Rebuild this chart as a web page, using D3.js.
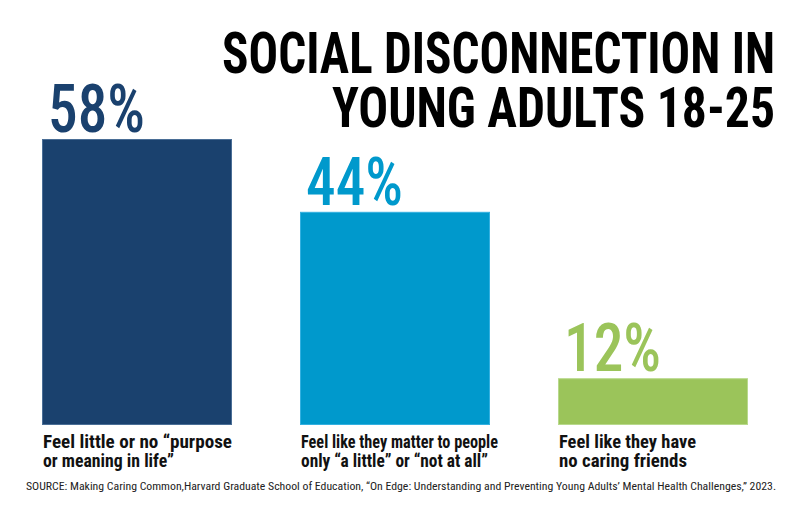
<!DOCTYPE html>
<html>
<head>
<meta charset="utf-8">
<script src="https://cdn.jsdelivr.net/npm/d3@7"></script>
<style>
  html, body { margin: 0; padding: 0; background: #ffffff; }
  svg { display: block; }
  .cond { font-family: "Liberation Sans Narrow", "Roboto Condensed", Roboto, "DejaVu Sans Condensed", sans-serif; }
</style>
</head>
<body>
<div id="chart"></div>
<script>
// ---- data ----
const titleLines = ["SOCIAL DISCONNECTION IN", "YOUNG ADULTS 18-25"];
const categories = [
  ["Feel little or no \u201Cpurpose", "or meaning in life\u201D"],
  ["Feel like they matter to people", "only \u201Ca little\u201D or \u201Cnot at all\u201D"],
  ["Feel like they have", "no caring friends"]
];
const values = [58, 44, 12];
const valueLabels = ["58%", "44%", "12%"];
const colors = ["#1a416e", "#0099cc", "#9bc45a"];
const strokeColors = ["#4a6e96", "#33b0e0", "#b8d98c"];
const source = "SOURCE: Making Caring Common,Harvard Graduate School of Education, \u201COn Edge: Understanding and Preventing Young Adults\u2019 Mental Health Challenges,\u201D 2023.";

// ---- layout ----
const W = 800, H = 514;
const svg = d3.select("#chart").append("svg").attr("width", W).attr("height", H);

const x = d3.scaleBand().domain(d3.range(values.length)).range([42, 748]).paddingInner(0.2636).paddingOuter(0);
const y = d3.scaleLinear().domain([3, 58]).range([425, 139]);

// title
const titleG = svg.append("g").attr("class", "cond");
const titleSpec = [{ base: 73, len: 553, size: 57 }, { base: 127, len: 443, size: 55 }];
titleG.selectAll("text").data(titleLines).join("text")
  .attr("x", 775)
  .attr("y", (d, i) => titleSpec[i].base)
  .attr("text-anchor", "end")
  .attr("font-size", (d, i) => titleSpec[i].size)
  .attr("font-weight", "bold")
  .attr("fill", "#000")
  .attr("textLength", (d, i) => titleSpec[i].len)
  .attr("lengthAdjust", "spacingAndGlyphs")
  .text(d => d);

// bars
svg.append("g").selectAll("rect").data(values).join("rect")
  .attr("x", (d, i) => x(i) + 0.5)
  .attr("y", d => y(d) + 0.5)
  .attr("width", x.bandwidth() - 1)
  .attr("height", d => y.range()[0] - y(d) - 1)
  .attr("fill", (d, i) => colors[i])
  .attr("stroke", (d, i) => strokeColors[i])
  .attr("stroke-width", 1);

// value labels
svg.append("g").attr("class", "cond").selectAll("text").data(values).join("text")
  .attr("x", (d, i) => x(i) + 6)
  .attr("y", d => y(d) - 7)
  .attr("font-size", 67)
  .attr("font-weight", 500)
  .attr("fill", (d, i) => colors[i])
  .attr("textLength", 97)
  .attr("lengthAdjust", "spacingAndGlyphs")
  .text((d, i) => valueLabels[i]);

// category labels
const catLens = [[189, 131], [197, 187], [137, 128]];
const catG = svg.append("g").attr("class", "cond");
categories.forEach((lines, i) => {
  catG.selectAll(null).data(lines).join("text")
    .attr("x", x(i) + 1)
    .attr("y", (d, j) => 448 + j * 19)
    .attr("font-size", 18.5)
    .attr("font-weight", "bold")
    .attr("fill", "#111")
    .attr("textLength", (d, j) => catLens[i][j])
    .attr("lengthAdjust", "spacingAndGlyphs")
    .text(d => d);
});

// source
svg.append("text").attr("class", "cond")
  .attr("x", 26)
  .attr("y", 490)
  .attr("font-size", 10.5)
  .attr("fill", "#222")
  .attr("textLength", 750)
  .attr("lengthAdjust", "spacingAndGlyphs")
  .text(source);
</script>
</body>
</html>
